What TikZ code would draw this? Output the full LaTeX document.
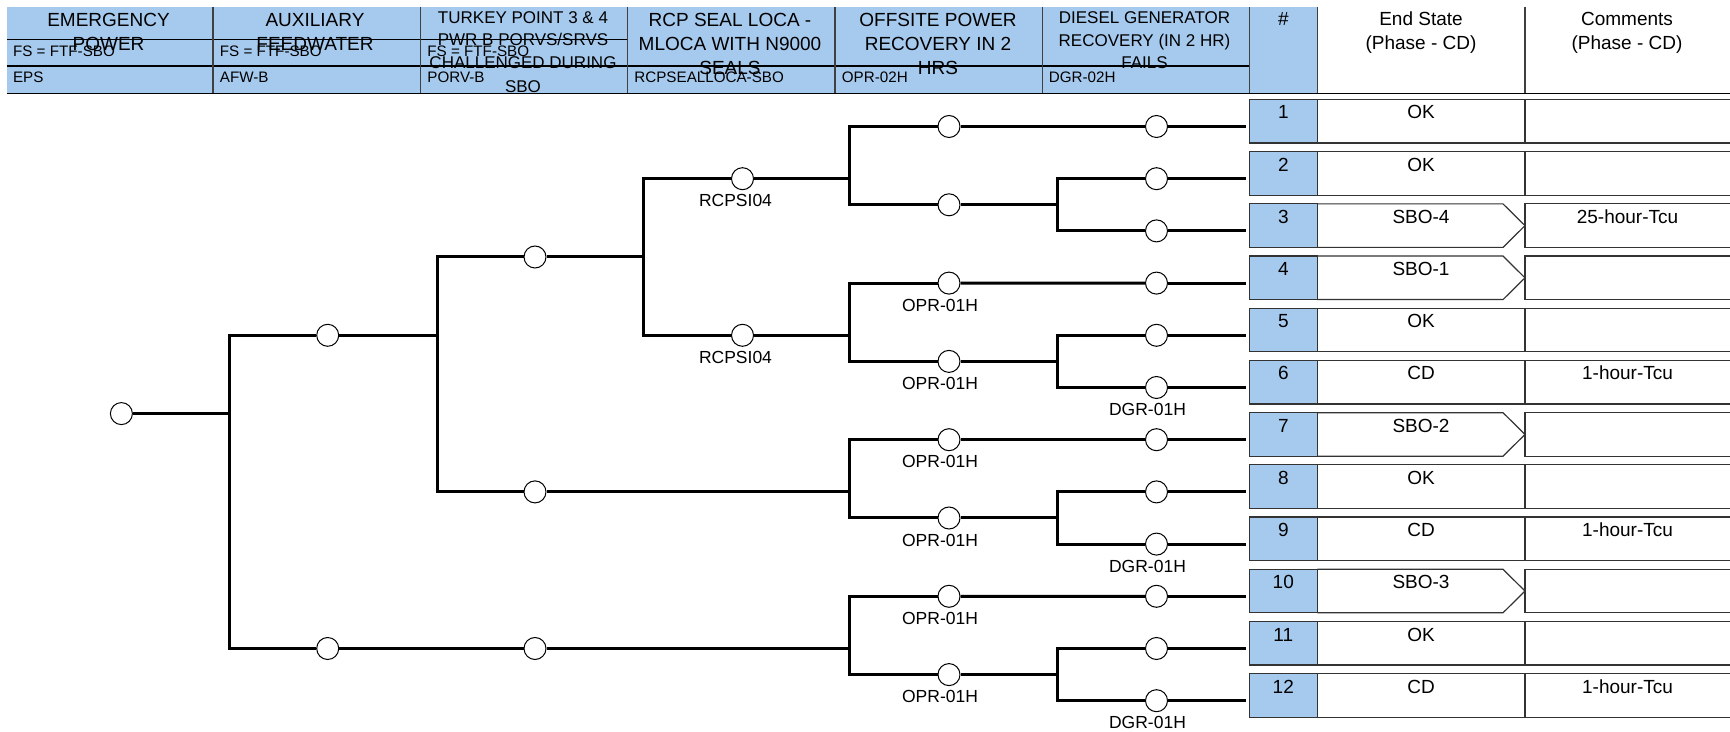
\documentclass[tikz,border=0pt]{standalone}
\usepackage{fontspec}
\setmainfont{Liberation Sans}
\usetikzlibrary{shapes.geometric}
\definecolor{hdrblue}{RGB}{166,202,238}
\begin{document}
\begin{tikzpicture}[x=0.5pt,y=-0.5pt,
  ev/.style={circle, draw=black, line width=0.5pt, fill=white, minimum size=11pt, inner sep=0pt},
  br/.style={line width=1.5pt, black},
  hl/.style={line width=0.6pt, black},
  vl/.style={line width=0.6pt, black!75},
  cellline/.style={line width=0.6pt, black!80},
  numcell/.style={draw=black!80, line width=0.6pt, fill=hdrblue, minimum width=34pt, minimum height=21.75pt, inner sep=0pt},
  ttl/.style={font=\fontsize{9.5}{11}\selectfont, anchor=base, inner sep=0pt},
  ttls/.style={font=\fontsize{8.5}{10}\selectfont, anchor=base, inner sep=0pt},
  sml/.style={font=\fontsize{7.6}{9}\selectfont, anchor=base west, inner sep=0pt},
  rowtxt/.style={font=\fontsize{9.5}{11}\selectfont, anchor=base, inner sep=0pt},
  lbl/.style={font=\fontsize{8.75}{10}\selectfont, anchor=base, inner sep=0pt},
]
\useasboundingbox (0,0) rectangle (1730,732);

% ---------- header ----------
\fill[hdrblue] (6.7,6.7) rectangle (1317.3,93.3);
\draw[hl] (6.7,39.5) -- (627.7,39.5);
\draw[hl] (6.7,66) -- (1249.3,66);
\foreach \x in {213,420.5,627.7,835,1042.5,1249.3,1317.3,1525} \draw[vl] (\x,6.7) -- (\x,93.3);
\draw[hl] (6.7,93.3) -- (1730,93.3);

\node[ttl] (t1a) at (108.5,26.7) {EMERGENCY};
\node[ttl] (t1b) at (108.5,50.7) {POWER};
\node[ttl] (t2a) at (315,26.7) {AUXILIARY};
\node[ttl] (t2b) at (315,50.7) {FEEDWATER};
\node[ttls] (t3a) at (523,23.3) {TURKEY POINT 3 \& 4};
\node[ttls] (t3b) at (523,45.5) {PWR B PORVS/SRVS};
\node[ttls] (t3c) at (523,68.5) {CHALLENGED DURING};
\node[ttls] (t3d) at (523,92.5) {SBO};
\node[ttl] (t4a) at (730,26.7) {RCP SEAL LOCA -};
\node[ttl] (t4b) at (730,50.7) {MLOCA WITH N9000};
\node[ttl] (t4c) at (730,75) {SEALS};
\node[ttl] (t5a) at (938,26.7) {OFFSITE POWER};
\node[ttl] (t5b) at (938,50.7) {RECOVERY IN 2};
\node[ttl] (t5c) at (938,75) {HRS};
\node[ttls] (t6a) at (1144.5,23.3) {DIESEL GENERATOR};
\node[ttls] (t6b) at (1144.5,46.5) {RECOVERY (IN 2 HR)};
\node[ttls] (t6c) at (1144.5,68.3) {FAILS};
\node[ttl] (t7) at (1283.3,26) {\#};
\node[ttl] (t8a) at (1421,26) {End State};
\node[ttl] (t8b) at (1421,50) {(Phase - CD)};
\node[ttl] (t9a) at (1627,26) {Comments};
\node[ttl] (t9b) at (1627,50) {(Phase - CD)};

\node[sml] (f1) at (12.7,57) {FS = FTF-SBO};
\node[sml] (f2) at (219.5,57) {FS = FTF-SBO};
\node[sml] (f3) at (427,57) {FS = FTF-SBO};
\node[sml] (g1) at (12.7,82.5) {EPS};
\node[sml] (g2) at (219.5,82.5) {AFW-B};
\node[sml] (g3) at (427,82.5) {PORV-B};
\node[sml] (g4) at (634,82.5) {RCPSEALLOCA-SBO};
\node[sml] (g5) at (841.5,82.5) {OPR-02H};
\node[sml] (g6) at (1048.5,82.5) {DGR-02H};

% ---------- tree nodes ----------
\node[ev] (root) at (121.4,413.6) {};
\node[ev] (a1) at (327.7,335.3) {};
\node[ev] (a2) at (327.7,648.5) {};
\node[ev] (b1) at (535,257) {};
\node[ev] (b2) at (535,491.9) {};
\node[ev] (b3) at (535,648.5) {};
\node[ev] (cc1) at (742.5,178.7) {};
\node[ev] (cc2) at (742.5,335.3) {};
\node[ev] (d1) at (949,126.5) {};
\node[ev] (d2) at (949,204.8) {};
\node[ev] (d3) at (949,283.1) {};
\node[ev] (d4) at (949,361.4) {};
\node[ev] (d5) at (949,439.7) {};
\node[ev] (d6) at (949,518) {};
\node[ev] (d7) at (949,596.3) {};
\node[ev] (d8) at (949,674.6) {};
\foreach \k in {1,...,12}{
  \pgfmathsetmacro\yl{126.5+52.2*(\k-1)}
  \node[ev] (e\k) at (1156.5,\yl) {};
}

\coordinate (j0) at (229.5,413.6);
\coordinate (j1) at (437,335.3);
\coordinate (j2) at (643.2,257);
\coordinate (j3) at (849.5,178.7);
\coordinate (j4) at (849.5,335.3);
\coordinate (j5) at (849.5,491.9);
\coordinate (j6) at (849.5,648.5);
\coordinate (j7) at (1057.5,204.8);
\coordinate (j8) at (1057.5,361.4);
\coordinate (j9) at (1057.5,518);
\coordinate (j10) at (1057.5,674.6);

% ---------- connectors ----------
\draw[br] (root) -- (j0);
\draw[br] (a1) -| (j0) |- (a2);
\draw[br] (a1) -- (j1);
\draw[br] (b1) -| (j1) |- (b2);
\draw[br] (a2) -- (b3);
\draw[br] (b3) -- (j6);
\draw[br] (b1) -- (j2);
\draw[br] (cc1) -| (j2) |- (cc2);
\draw[br] (cc1) -- (j3);
\draw[br] (d1) -| (j3) |- (d2);
\draw[br] (cc2) -- (j4);
\draw[br] (d3) -| (j4) |- (d4);
\draw[br] (b2) -- (j5);
\draw[br] (d5) -| (j5) |- (d6);
\draw[br] (d7) -| (j6) |- (d8);
\draw[br] (d1) -- (e1);
\draw[br] (d3) -- (e4);
\draw[br] (d5) -- (e7);
\draw[br] (d7) -- (e10);
\draw[br] (d2) -- (j7);
\draw[br] (e2) -| (j7) |- (e3);
\draw[br] (d4) -- (j8);
\draw[br] (e5) -| (j8) |- (e6);
\draw[br] (d6) -- (j9);
\draw[br] (e8) -| (j9) |- (e9);
\draw[br] (d8) -- (j10);
\draw[br] (e11) -| (j10) |- (e12);

% ---------- labels ----------
\node[lbl] (l1) at (735.5,206.7) {RCPSI04};
\node[lbl] (l2) at (735.5,363.3) {RCPSI04};
\node[lbl] (l3) at (940,311.1) {OPR-01H};
\node[lbl] (l4) at (940,389.4) {OPR-01H};
\node[lbl] (l5) at (940,467.7) {OPR-01H};
\node[lbl] (l6) at (940,546) {OPR-01H};
\node[lbl] (l7) at (940,624.3) {OPR-01H};
\node[lbl] (l8) at (940,702.6) {OPR-01H};
\node[lbl] (l9) at (1147.5,415.5) {DGR-01H};
\node[lbl] (l10) at (1147.5,572.1) {DGR-01H};
\node[lbl] (l11) at (1147.5,728.7) {DGR-01H};

% ---------- end-state rows ----------
\foreach \k/\es/\cm/\sh in {1/OK//0,2/OK//0,3/SBO-4/25-hour-Tcu/1,4/SBO-1//1,5/OK//0,6/CD/1-hour-Tcu/0,7/SBO-2//1,8/OK//0,9/CD/1-hour-Tcu/0,10/SBO-3//1,11/OK//0,12/CD/1-hour-Tcu/0}{
  \pgfmathsetmacro\yl{126.5+52.2*(\k-1)}
  \pgfmathsetmacro\yt{\yl-27}
  \pgfmathsetmacro\yb{\yl+16.5}
  \pgfmathsetmacro\yc{\yl-5.25}
  \pgfmathsetmacro\ytx{\yt+19.5}
  \node[numcell] (num\k) at (1283.3,\yc) {};
  \node[rowtxt] (numt\k) at (1283.3,\ytx) {\k};
  \ifnum\sh=1
    \draw[cellline] (1317.3,\yt) -- (1503,\yt) -- (1525,\yc) -- (1503,\yb) -- (1317.3,\yb);
  \else
    \draw[cellline] (1317.3,\yt) -- (1525,\yt) -- (1525,\yb) -- (1317.3,\yb);
  \fi
  \draw[cellline] (1730,\yt) -- (1525,\yt) -- (1525,\yb) -- (1730,\yb);
  \node[rowtxt] (es\k) at (1421,\ytx) {\es};
  \node[rowtxt] (cm\k) at (1627.5,\ytx) {\cm};
  \draw[br, shorten >=1.5pt] (e\k) -- (e\k -| num\k.west);
}
\end{tikzpicture}
\end{document}
